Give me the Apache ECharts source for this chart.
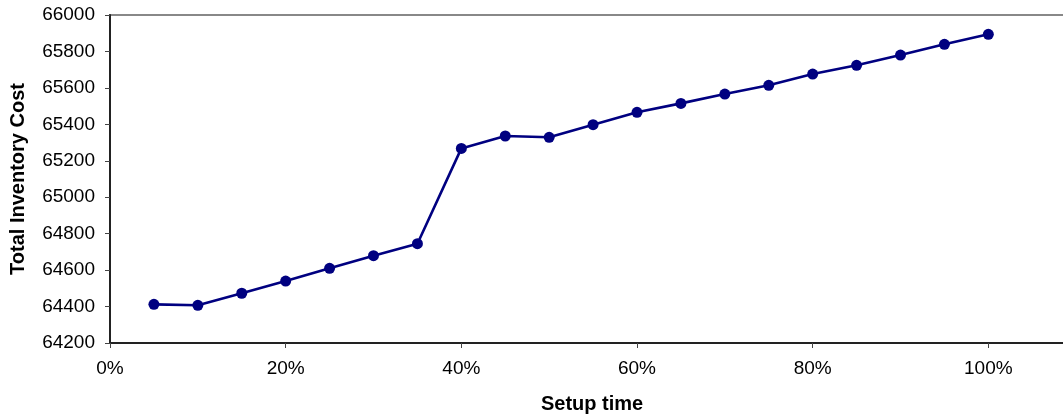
<!DOCTYPE html>
<html>
<head>
<meta charset="utf-8">
<script src="https://cdn.jsdelivr.net/npm/echarts@6/dist/echarts.min.js"></script>
<style>
  html, body { margin: 0; padding: 0; background: #ffffff; }
  #chart { width: 1063px; height: 417px; }
</style>
</head>
<body>
<div id="chart"></div>
<script>
// Setup time as a share of the base value
const setupTime = [0.05, 0.10, 0.15, 0.20, 0.25, 0.30, 0.35, 0.40, 0.45, 0.50,
                   0.55, 0.60, 0.65, 0.70, 0.75, 0.80, 0.85, 0.90, 0.95, 1.00];
// Total inventory cost at each setup time
const totalCost = [64412, 64407, 64473, 64540, 64610, 64679, 64745, 65268, 65336, 65329,
                   65398, 65466, 65515, 65566, 65614, 65676, 65724, 65780, 65839, 65894];

const xTitle = 'Setup time';
const yTitle = 'Total Inventory Cost';

const points = setupTime.map((x, i) => [x, totalCost[i]]);

const FONT = '"Liberation Sans", Arial, sans-serif';

const chart = echarts.init(document.getElementById('chart'), null, { renderer: 'canvas' });

chart.setOption({
  animation: false,
  backgroundColor: '#ffffff',
  grid: {
    left: 110,
    top: 15,
    bottom: 74,
    right: -101,
    outerBoundsMode: 'none',
    containLabel: false,
    show: true,
    borderColor: '#888888',
    borderWidth: 2,
    backgroundColor: 'transparent'
  },
  xAxis: {
    type: 'value',
    min: 0,
    max: 1.2,
    interval: 0.2,
    splitLine: { show: false },
    axisLine: { show: true, onZero: false, lineStyle: { color: '#222222', width: 2 } },
    axisTick: { show: true, inside: false, length: 5, lineStyle: { color: '#444444', width: 1 } },
    axisLabel: {
      margin: 16,
      color: '#000000',
      fontFamily: FONT,
      fontSize: 19,
      formatter: v => Math.round(v * 100) + '%'
    }
  },
  yAxis: {
    type: 'value',
    min: 64200,
    max: 66000,
    interval: 200,
    name: yTitle,
    nameLocation: 'middle',
    nameGap: 82,
    nameRotate: 90,
    nameTextStyle: {
      color: '#000000',
      fontFamily: FONT,
      fontSize: 20,
      fontWeight: 'bold'
    },
    splitLine: { show: false },
    axisLine: { show: true, onZero: false, lineStyle: { color: '#222222', width: 2 } },
    axisTick: { show: true, inside: false, length: 5, lineStyle: { color: '#444444', width: 1 } },
    axisLabel: {
      margin: 15,
      color: '#000000',
      fontFamily: FONT,
      fontSize: 19,
      formatter: v => String(v)
    }
  },
  graphic: [{
    type: 'text',
    left: 592 - 51,
    top: 394,
    style: {
      text: xTitle,
      fill: '#000000',
      font: 'bold 20px ' + FONT
    }
  }],
  series: [{
    type: 'line',
    data: points,
    symbol: 'circle',
    symbolSize: 11,
    showSymbol: true,
    lineStyle: { color: '#000080', width: 2.6 },
    itemStyle: { color: '#000080' },
    clip: false
  }]
});
</script>
</body>
</html>
